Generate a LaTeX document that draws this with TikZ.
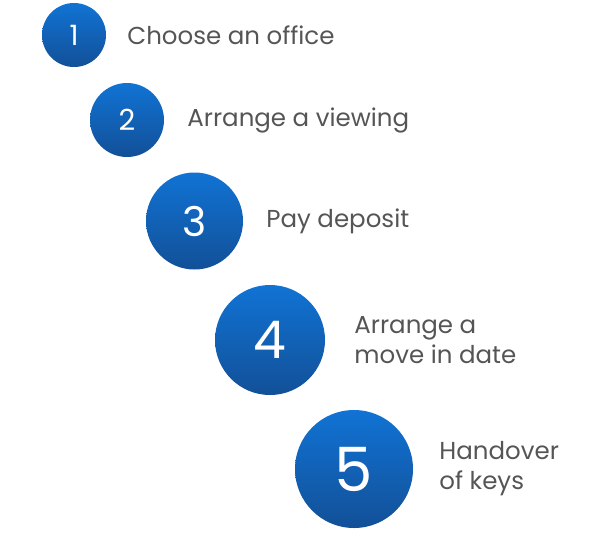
\documentclass[tikz,border=0pt]{standalone}
\usepackage{fontspec}
\setmainfont{Poppins}
\usetikzlibrary{positioning}
\definecolor{dottop}{RGB}{17,115,212}
\definecolor{dotbottom}{RGB}{18,80,152}
\definecolor{labelgray}{RGB}{85,85,85}
\tikzset{
  stepdot/.style={
    circle, inner sep=0pt, text=white,
    top color=dottop, bottom color=dotbottom
  },
  steplabel/.style={
    text=labelgray, align=left, inner sep=0pt,
    font=\fontsize{24.5}{30}\selectfont
  }
}

\begin{document}
\begin{tikzpicture}[x=1pt, y=-1pt]
  \useasboundingbox (0,0) rectangle (610,550);

  \node[stepdot, minimum size=64pt, font=\fontsize{28}{28}\selectfont] (dot1) at (74,35) {1};
  \node[stepdot, minimum size=74pt, font=\fontsize{29}{29}\selectfont] (dot2) at (127,120) {2};
  \node[stepdot, minimum size=97pt, font=\fontsize{41}{41}\selectfont] (dot3) at (194.5,221) {3};
  \node[stepdot, minimum size=110pt, font=\fontsize{52}{52}\selectfont] (dot4) at (270,340) {4};
  \node[stepdot, minimum size=118pt, font=\fontsize{61}{61}\selectfont] (dot5) at (354,469) {5};

  \node[steplabel, right=21pt of dot1] (label1) {Choose an office};
  \node[steplabel, right=23pt of dot2] (label2) {Arrange a viewing};
  \node[steplabel, right=23pt of dot3] (label3) {Pay deposit};
  \node[steplabel, right=29pt of dot4] (label4) {Arrange a\\move in date};
  \node[steplabel, right=26pt of dot5] (label5) {Handover\\of keys};
\end{tikzpicture}
\end{document}
